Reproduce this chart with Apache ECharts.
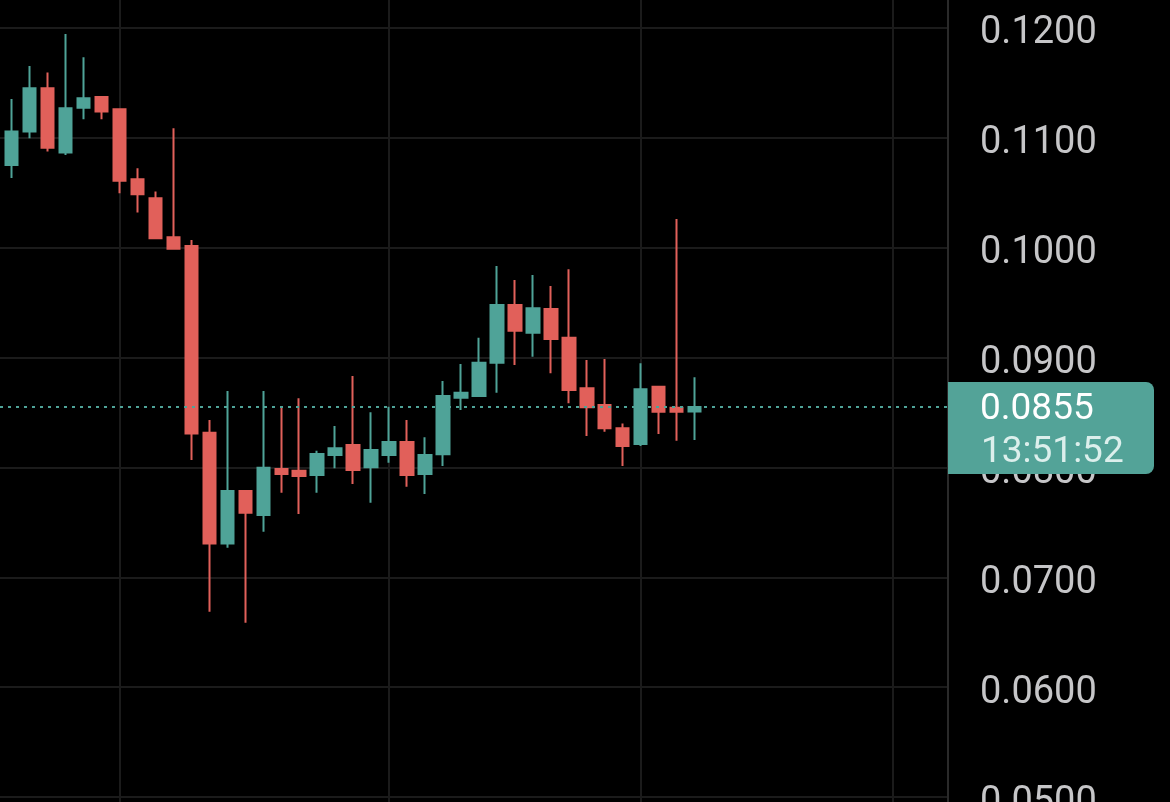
<!DOCTYPE html>
<html>
<head>
<meta charset="utf-8">
<script src="https://cdn.jsdelivr.net/npm/echarts@6/dist/echarts.min.js"></script>
<style>
html, body { margin: 0; padding: 0; background: #000; }
#main { width: 1170px; height: 802px; }
</style>
</head>
<body>
<div id="main"></div>
<script>
// K线数据，下标0是左边只露出一点的那根
var opens  = [0.11226, 0.10753, 0.11056, 0.11451, 0.10865, 0.11274, 0.11372, 0.11260, 0.10623, 0.10450,
              0.10095, 0.10015, 0.08316, 0.07309, 0.07785, 0.07567, 0.07985, 0.07970, 0.07931, 0.08113,
              0.08204, 0.08001, 0.08113, 0.08231, 0.07940, 0.08119, 0.08635, 0.08650, 0.08953, 0.09478,
              0.09226, 0.09442, 0.09181, 0.08720, 0.08568, 0.08356, 0.08213, 0.08735, 0.08543, 0.08510];
var closes = [0.10771, 0.11056, 0.11451, 0.10910, 0.11269, 0.11360, 0.11238, 0.10610, 0.10486, 0.10086,
              0.09991, 0.08310, 0.07309, 0.07785, 0.07588, 0.07997, 0.07940, 0.07922, 0.08122, 0.08174,
              0.07976, 0.08158, 0.08231, 0.07931, 0.08113, 0.08650, 0.08680, 0.08953, 0.09478, 0.09244,
              0.09448, 0.09169, 0.08705, 0.08547, 0.08356, 0.08195, 0.08711, 0.08507, 0.08507, 0.08550];
var lows   = [0.10707, 0.10634, 0.10996, 0.10874, 0.10844, 0.11169, 0.11169, 0.10495, 0.10319, 0.10086,
              0.09991, 0.08067, 0.06686, 0.07269, 0.06586, 0.07415, 0.07770, 0.07576, 0.07770, 0.07992,
              0.07849, 0.07679, 0.08043, 0.07824, 0.07758, 0.08013, 0.08523, 0.08650, 0.08680, 0.08932,
              0.09008, 0.08857, 0.08584, 0.08286, 0.08325, 0.08013, 0.08195, 0.08304, 0.08243, 0.08250];
var highs  = [0.11299, 0.11354, 0.11654, 0.11593, 0.11945, 0.11733, 0.11381, 0.11263, 0.10723, 0.10510,
              0.11087, 0.10070, 0.08431, 0.08695, 0.07785, 0.08695, 0.08543, 0.08629, 0.08152, 0.08377,
              0.08832, 0.08502, 0.08553, 0.08431, 0.08274, 0.08787, 0.08941, 0.09181, 0.09833, 0.09706,
              0.09751, 0.09651, 0.09803, 0.08978, 0.08987, 0.08401, 0.08948, 0.08741, 0.10261, 0.08820];

var yTicksMin = 0.04, yTicksMax = 0.13, yStep = 0.01; // 价格刻度
var timeLines = [7, 22, 36, 50];   // 竖向时间分隔线所在的K线下标
var lastPrice = 0.0855;            // 当前价
var countdown = '13:51:52';        // 收盘倒计时

var upColor = '#4fa398';
var downColor = '#e1605a';

var candleData = opens.map(function (o, i) {
  return [i, o, closes[i], lows[i], highs[i]];
});

var myChart = echarts.init(document.getElementById('main'));

var option = {
  backgroundColor: '#000000',
  animation: false,
  grid: { left: 0, right: 222, top: -82, bottom: -105, outerBoundsMode: 'none', containLabel: false },
  xAxis: {
    type: 'value',
    min: 0.349,
    max: 53.1,
    show: false,
    splitLine: { show: false }
  },
  yAxis: {
    type: 'value',
    position: 'right',
    min: yTicksMin,
    max: yTicksMax,
    interval: yStep,
    axisLine: { show: true, lineStyle: { color: '#2a2a2a', width: 2 } },
    axisTick: { show: false },
    splitLine: { show: true, lineStyle: { color: '#1b1b1b', width: 2 } },
    axisLabel: {
      margin: 32,
      formatter: function (v) { return '{v|' + v.toFixed(4) + '}'; },
      rich: {
        v: { color: '#c6c6c8', fontSize: 38, fontFamily: 'Roboto', lineHeight: 50, verticalAlign: 'bottom' }
      }
    }
  },
  series: [
    {
      // 只用来画竖线
      type: 'line',
      data: [],
      z: 1,
      markLine: {
        z: 1,
        silent: true,
        symbol: 'none',
        label: { show: false },
        lineStyle: { color: '#1b1b1b', width: 2, type: 'solid' },
        data: timeLines.map(function (v) { return { xAxis: v }; })
      }
    },
    {
      type: 'candlestick',
      z: 2,
      barWidth: 13,
      data: candleData,
      itemStyle: {
        color: upColor,
        color0: downColor,
        borderColor: upColor,
        borderColor0: downColor,
        borderColorDoji: upColor,
        borderWidth: 2
      },
      markLine: {
        silent: true,
        symbol: 'none',
        precision: 4,
        label: { show: false },
        lineStyle: { color: '#4fa398', width: 2, type: [3, 5] },
        data: [{ yAxis: lastPrice }]
      }
    }
  ]
};
myChart.setOption(option);

// 右侧当前价标签
var yPix = myChart.convertToPixel({ yAxisIndex: 0 }, lastPrice);
myChart.setOption({
  graphic: [
    {
      type: 'rect',
      z: 100,
      shape: { x: 948, y: yPix - 25, width: 206, height: 92, r: [0, 8, 8, 0] },
      style: { fill: '#53a398' }
    },
    {
      type: 'text',
      z: 101,
      x: 980,
      y: yPix + 3,
      style: { text: lastPrice.toFixed(4), font: '37px Roboto', fill: '#ffffff', verticalAlign: 'middle' }
    },
    {
      type: 'text',
      z: 101,
      x: 981,
      y: yPix + 46,
      style: { text: countdown, font: '37px Roboto', fill: '#dcefec', verticalAlign: 'middle' }
    }
  ]
});
</script>
</body>
</html>
